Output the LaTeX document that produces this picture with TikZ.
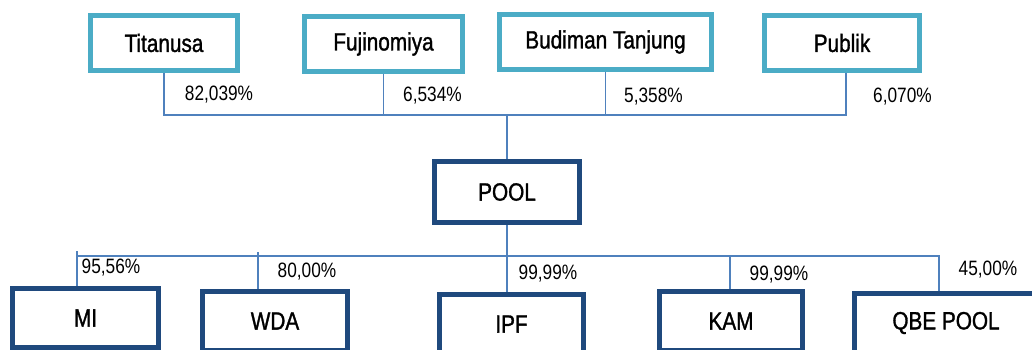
\documentclass[tikz,border=0pt]{standalone}
\usepackage{fontspec}
\setmainfont[FakeStretch=0.83]{Liberation Sans}
\newfontfamily\boxfont[FakeStretch=0.83,FakeBold=1.2]{Liberation Sans}
\usepackage{xcolor}
\usetikzlibrary{calc}
\usetikzlibrary{positioning}
\definecolor{tealbox}{HTML}{4BACC6}
\definecolor{navybox}{HTML}{1F497D}
\definecolor{linkblue}{HTML}{4F81BD}

\begin{document}
\begin{tikzpicture}[x=1pt,y=-1pt,
	owner/.style={draw=tealbox,line width=4.8pt,fill=white,minimum height=55.2pt,inner sep=0pt,font=\boxfont\fontsize{25}{30}\selectfont},
	firm/.style={draw=navybox,line width=4.6pt,fill=white,minimum height=59.4pt,inner sep=0pt,font=\boxfont\fontsize{25}{30}\selectfont},
	link/.style={draw=linkblue,line width=1.6pt},
	pct/.style={inner sep=0pt,font=\fontsize{20.8}{25}\selectfont}]
		\useasboundingbox (0,0) rectangle (1032,350);
		\clip (0,0) rectangle (1032,350);
		\node[owner,minimum width=147.2pt] (titanusa) at (164,43) {Titanusa};
		\node[owner,minimum width=158.2pt] (fujinomiya) at (383.5,44) {Fujinomiya};
		\node[owner,minimum width=212.2pt] (budiman) at (605.5,42) {Budiman Tanjung};
		\node[owner,minimum width=155.2pt] (publik) at (842,43) {Publik};
		\node[firm,minimum width=145.4pt,minimum height=61.4pt] (pool) at (507,192) {POOL};
		\node[firm,minimum width=146.4pt] (mi) at (85.5,318) {MI};
		\node[firm,minimum width=145.4pt] (wda) at (275,321) {WDA};
		\node[firm,minimum width=144.4pt] (ipf) at (511.5,324) {IPF};
		\node[firm,minimum width=143.4pt] (kam) at (731,321) {KAM};
		\node[firm,minimum width=183.4pt] (qbe) at (946,323) {QBE POOL};
		\coordinate (ownbus) at (507,115);
		\coordinate (firmbus) at (506,256);
		\draw[link] (titanusa.south) |- (ownbus) -| ($(publik.south)+(4,0)$);
		\draw[link] (fujinomiya.south) -- (fujinomiya.south |- ownbus);
		\draw[link] (budiman.south) -- (budiman.south |- ownbus);
		\draw[link] (ownbus) -- (pool.north);
		\draw[link] (pool.south) -- (pool.south |- ipf.north);
		\draw[link] ($(mi.north |- firmbus)+(-8.5,0)$) -- ($(qbe.north |- firmbus)+(-7,0)$) -- ($(qbe.north)+(-7,0)$);
		\draw[link] ($(mi.north)+(-8.5,0)$) -- ($(mi.north |- firmbus)+(-8.5,-5)$);
		\draw[link] ($(wda.north)+(-17,0)$) -- ($(wda.north |- firmbus)+(-17,-4)$);
		\draw[link] ($(kam.north)+(-1,0)$) -- ($(kam.north |- firmbus)+(-1,0)$);
		\node[pct] (pcttitanusa) at (219,95) {82,039\%};
		\node[pct] (pctfujinomiya) at (432.5,96) {6,534\%};
		\node[pct] (pctbudiman) at (653.5,97) {5,358\%};
		\node[pct] (pctpublik) at (902.5,97) {6,070\%};
		\node[pct] (pctmi) at (111,268) {95,56\%};
		\node[pct] (pctwda) at (307,272) {80,00\%};
		\node[pct] (pctipf) at (548,274) {99,99\%};
		\node[pct] (pctkam) at (779,275) {99,99\%};
		\node[pct] (pctqbe) at (988,270) {45,00\%};
	\end{tikzpicture}
\end{document}
